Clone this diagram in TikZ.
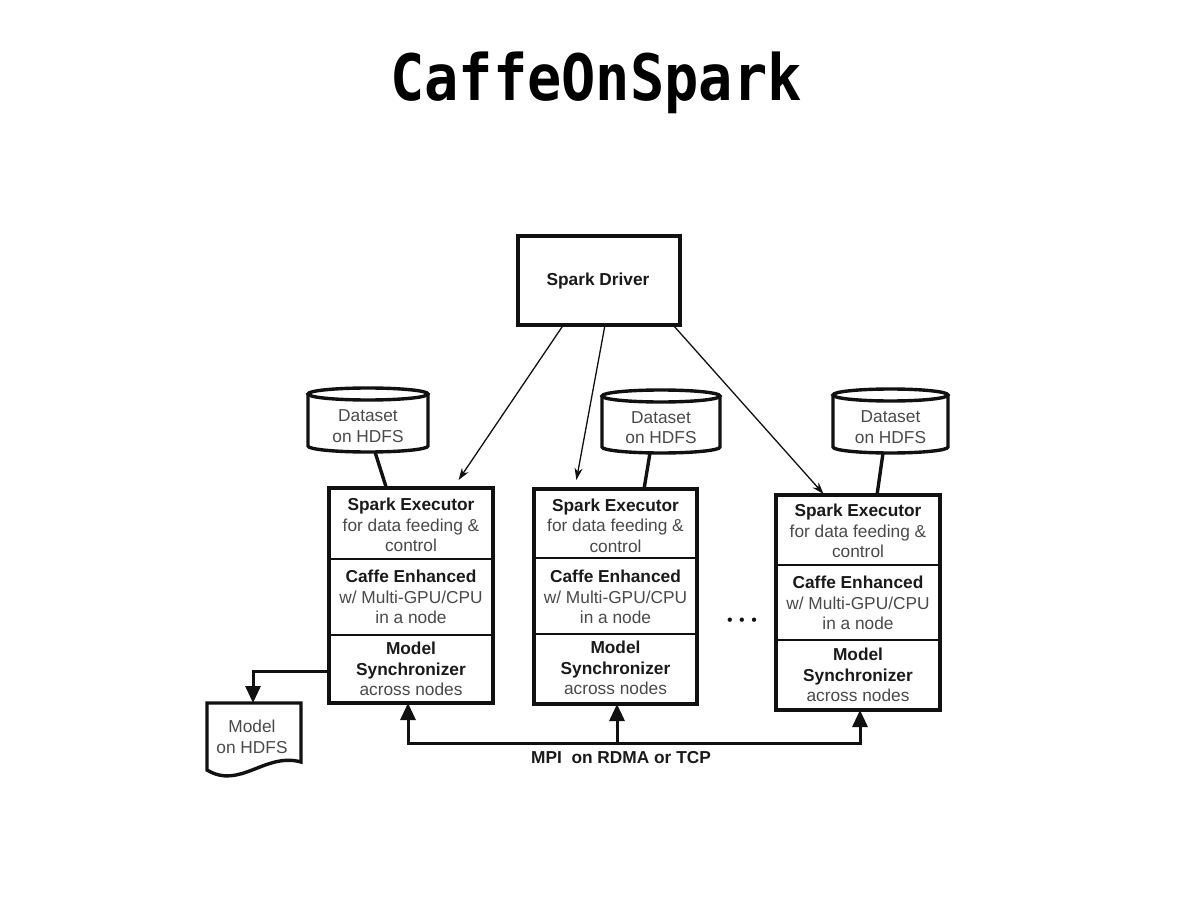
\documentclass[tikz,border=0pt]{standalone}
\usepackage{fontspec}
\setmainfont{Liberation Sans}
\newfontfamily\titlefont{DejaVu Sans Mono}[FakeStretch=0.89]
\usetikzlibrary{arrows.meta,calc}
\definecolor{ink}{HTML}{111111}
\definecolor{boldtxt}{HTML}{1A1A1A}
\definecolor{lighttxt}{HTML}{4A4A4A}
\newcommand\bhead[1]{\textcolor{boldtxt}{\bfseries #1}}
\begin{document}
\begin{tikzpicture}[x=1pt,y=-1pt,
  heavy/.style={draw=ink, line width=3.4pt},
  box/.style={draw=ink, line width=3.4pt, outer sep=0pt, inner sep=0pt},
  body/.style={outer sep=0pt, inner sep=0pt},
  divider/.style={draw=ink, line width=2pt},
  sect/.style={align=center, inner sep=0pt, text=lighttxt, font=\fontsize{17.3}{20.5}\selectfont},
  boldlbl/.style={inner sep=0pt, text=boldtxt, font=\bfseries\fontsize{17.3}{20.5}\selectfont},
  thinarrow/.style={draw=ink, line width=1.3pt, -{Stealth[length=12pt,width=8pt]}},
  bus/.style={draw=ink, line width=3pt},
  bighead/.style={-{Triangle[length=17pt,width=15pt]}},
]
\fill[white] (0,0) rectangle (1192,904);
\useasboundingbox (0,0) rectangle (1192,904);

% title
\node[anchor=base, inner sep=0pt, font=\titlefont\bfseries\fontsize{64}{64}\selectfont] (title) at (596,101) {CaffeOnSpark};

% driver
\node[box, minimum width=162, minimum height=89] (drv) at (599,280.5) {};
\node[boldlbl] (drvt) at (598,281) {Spark Driver};

% executors
\node[box, minimum width=164, minimum height=215] (e1) at (411,595.5) {};
\node[box, minimum width=163, minimum height=215] (e2) at (615.5,596.5) {};
\node[box, minimum width=164, minimum height=215] (e3) at (858,602.5) {};

\draw[divider] ($(e1.north west)+(0,71)$) -- ($(e1.north east)+(0,71)$);
\draw[divider] ($(e1.north west)+(0,147)$) -- ($(e1.north east)+(0,147)$);
\draw[divider] ($(e2.north west)+(0,69)$) -- ($(e2.north east)+(0,69)$);
\draw[divider] ($(e2.north west)+(0,145)$) -- ($(e2.north east)+(0,145)$);
\draw[divider] ($(e3.north west)+(0,70)$) -- ($(e3.north east)+(0,70)$);
\draw[divider] ($(e3.north west)+(0,145)$) -- ($(e3.north east)+(0,145)$);

\node[sect] (e1a) at (411,525) {\bhead{Spark Executor}\\for data feeding \&\\control};
\node[sect] (e1b) at (411,597) {\bhead{Caffe Enhanced}\\w/ Multi-GPU/CPU\\in a node};
\node[sect] (e1c) at (411,669) {\bhead{Model}\\\bhead{Synchronizer}\\across nodes};
\node[sect] (e2a) at (615.5,525.5) {\bhead{Spark Executor}\\for data feeding \&\\control};
\node[sect] (e2b) at (615.5,597) {\bhead{Caffe Enhanced}\\w/ Multi-GPU/CPU\\in a node};
\node[sect] (e2c) at (615.5,668) {\bhead{Model}\\\bhead{Synchronizer}\\across nodes};
\node[sect] (e3a) at (858,531) {\bhead{Spark Executor}\\for data feeding \&\\control};
\node[sect] (e3b) at (858,603) {\bhead{Caffe Enhanced}\\w/ Multi-GPU/CPU\\in a node};
\node[sect] (e3c) at (858,675) {\bhead{Model}\\\bhead{Synchronizer}\\across nodes};

% datasets (cylinders)
\node[body, minimum width=120, minimum height=64] (d1) at (368,420) {};
\node[body, minimum width=118, minimum height=63] (d2) at (661,421.5) {};
\node[body, minimum width=115, minimum height=64] (d3) at (890.5,421) {};

\draw[heavy] ($(d1.north west)+(0,6)$) -- ($(d1.south west)+(0,-6)$) arc[start angle=180,end angle=0,x radius=60,y radius=6] -- ($(d1.north east)+(0,6)$);
\draw[heavy] ($(d1.north)+(0,6)$) ellipse[x radius=60,y radius=6];
\draw[heavy] ($(d2.north west)+(0,6)$) -- ($(d2.south west)+(0,-6)$) arc[start angle=180,end angle=0,x radius=59,y radius=6] -- ($(d2.north east)+(0,6)$);
\draw[heavy] ($(d2.north)+(0,6)$) ellipse[x radius=59,y radius=6];
\draw[heavy] ($(d3.north west)+(0,6)$) -- ($(d3.south west)+(0,-6)$) arc[start angle=180,end angle=0,x radius=57.5,y radius=6] -- ($(d3.north east)+(0,6)$);
\draw[heavy] ($(d3.north)+(0,6)$) ellipse[x radius=57.5,y radius=6];

\node[sect] (d1t) at ($(d1)+(0,6)$) {Dataset\\on HDFS};
\node[sect] (d2t) at ($(d2)+(0,6)$) {Dataset\\on HDFS};
\node[sect] (d3t) at ($(d3)+(0,6)$) {Dataset\\on HDFS};

% stems
\draw[heavy] ($(d1.south)+(7,0)$) -- ($(e1.north west)!0.35!(e1.north east)$);
\draw[heavy] ($(d2.south)+(-11,0)$) -- ($(e2.north west)!0.675!(e2.north east)$);
\draw[heavy] ($(d3.south)+(-7.5,0)$) -- ($(e3.north west)!0.616!(e3.north east)$);

% driver to executors
\draw[thinarrow] ($(drv.south west)!0.28!(drv.south east)$) -- ($(e1.north west)!0.79!(e1.north east)+(0,-8)$);
\draw[thinarrow] ($(drv.south west)!0.537!(drv.south east)$) -- ($(e2.north west)!0.26!(e2.north east)+(0,-9)$);
\draw[thinarrow] ($(drv.south west)!0.957!(drv.south east)$) -- ($(e3.north west)!0.29!(e3.north east)+(0,-1)$);

% model on HDFS
\node[body, minimum width=94, minimum height=67] (mdl) at (254,736.5) {};
\draw[heavy, line join=miter] (mdl.south west) -- (mdl.north west) -- (mdl.north east) -- ($(mdl.south east)+(0,-8)$)
  .. controls ($(mdl.south west)+(58,-18)$) and ($(mdl.south west)+(33,20)$) .. (mdl.south west) -- cycle;
\node[sect] (mdlt) at (252,737) {Model\\on HDFS};
\coordinate (mc) at (253,671);
\draw[bus, bighead] (e1.west |- mc) -- (mc) -- (mc |- mdl.north);

% MPI bus
\coordinate (b1) at (408,743);
\coordinate (b2) at (617,743);
\coordinate (b3) at (860,743);
\draw[bus, {Triangle[length=17pt,width=15pt]}-{Triangle[length=17pt,width=15pt]}] (b1 |- e1.south) -- (b1) -- (b3) -- (b3 |- e3.south);
\draw[bus, bighead] (b2) -- (b2 |- e2.south);
\node[boldlbl] (mpi) at (621,758) {MPI\ \ on RDMA or TCP};

% ellipsis
\node[inner sep=0pt, text=ink, font=\fontsize{16}{16}\selectfont] (dots) at (742,622) {\textbullet\hspace{6.5pt}\textbullet\hspace{6.5pt}\textbullet};
\end{tikzpicture}
\end{document}
